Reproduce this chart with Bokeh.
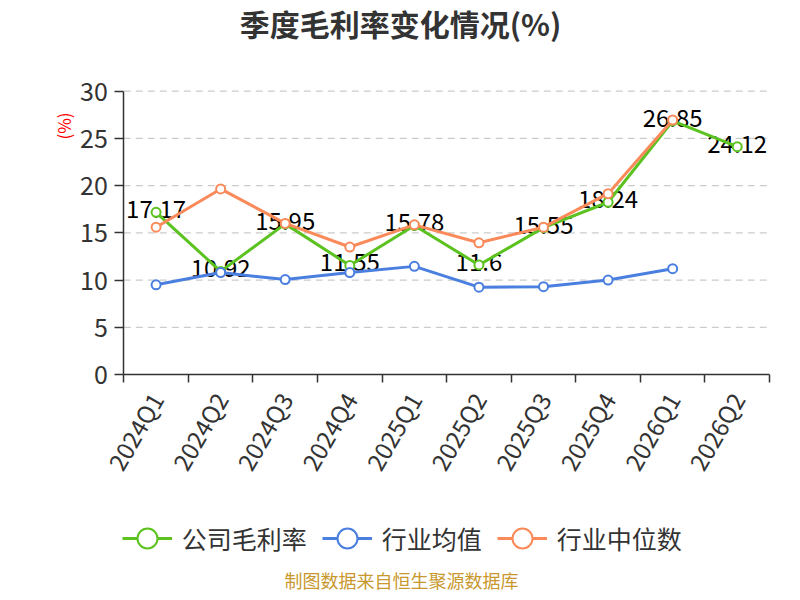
import math
from bokeh.plotting import figure
from bokeh.models import (Range1d, FixedTicker, Legend, LegendItem, Label,
                          ColumnDataSource, LinearAxis)
from bokeh.core.properties import value
from bokeh.embed import file_html
from bokeh.resources import INLINE

# ---- data ----
quarters = ["2024Q1", "2024Q2", "2024Q3", "2024Q4", "2025Q1",
            "2025Q2", "2025Q3", "2025Q4", "2026Q1", "2026Q2"]
company = [17.17, 10.92, 15.95, 11.55, 15.78, 11.6, 15.55, 18.24, 26.85, 24.12]
industry_avg = [9.5, 10.8, 10.05, 10.8, 11.45, 9.25, 9.3, 10.0, 11.2]
industry_median = [15.6, 19.65, 16.0, 13.5, 15.85, 13.95, 15.6, 19.15, 26.95]
y_ticks = [0, 5, 10, 15, 20, 25, 30]
series_names = ["公司毛利率", "行业均值", "行业中位数"]
title_text = "季度毛利率变化情况(%)"
unit_text = "(%)"
credit_text = "制图数据来自恒生聚源数据库"

GREEN = "#5bc21f"
BLUE = "#4a7fe0"
ORANGE = "#fa8a5a"
FONT = "Noto Sans CJK SC"
TXT = "#333333"

# ---- layout geometry (pixels inside the figure) ----
W, H = 792, 592
AX_LEFT, AX_RIGHT = 123.3, 769.0      # x extent of the category axis
AX_TOP, AX_ZERO = 90.7, 374.0         # pixel rows of y=30 and y=0
n = len(quarters)
x_lo, x_hi = -0.5, n - 0.5
y_lo, y_hi = y_ticks[0], y_ticks[-1]
ppx = (AX_RIGHT - AX_LEFT) / (x_hi - x_lo)
ppy = (AX_ZERO - AX_TOP) / (y_hi - y_lo)

p = figure(width=W, height=H, output_backend="svg", toolbar_location=None,
           x_range=Range1d(x_lo - AX_LEFT / ppx, x_hi + (W - AX_RIGHT) / ppx),
           y_range=Range1d(y_lo - (H - AX_ZERO) / ppy, y_hi + AX_TOP / ppy),
           x_axis_type=None, y_axis_type=None,
           min_border=0, min_border_left=0, min_border_right=0,
           min_border_top=0, min_border_bottom=0)
p.outline_line_color = None
p.background_fill_color = "white"
p.border_fill_color = "white"
p.xgrid.visible = False
p.ygrid.visible = False

xs = list(range(n))
bounds = [i - 0.5 for i in range(n + 1)]

# x axis (at y = 0): ticks at category boundaries, labels at centres
xax = LinearAxis(fixed_location=y_lo, bounds=(x_lo, x_hi))
xax.ticker = FixedTicker(ticks=xs, minor_ticks=bounds)
xax.major_label_overrides = {i: q for i, q in enumerate(quarters)}
xax.major_tick_out = 0
xax.major_tick_in = 0
xax.minor_tick_out = 8
xax.minor_tick_in = 0
xax.minor_tick_line_color = TXT
xax.minor_tick_line_width = 1.5
xax.axis_line_color = TXT
xax.axis_line_width = 1.5
xax.major_label_orientation = math.pi / 3
xax.major_label_text_font_size = "24px"
xax.major_label_text_font = FONT
xax.major_label_text_color = TXT
xax.major_label_standoff = 12
p.add_layout(xax, "below")

# y axis (at the left category boundary)
yax = LinearAxis(fixed_location=x_lo, bounds=(y_lo, y_hi))
yax.ticker = FixedTicker(ticks=y_ticks)
yax.major_tick_out = 9
yax.major_tick_in = 0
yax.minor_tick_out = 0
yax.minor_tick_in = 0
yax.major_tick_line_color = TXT
yax.major_tick_line_width = 1.5
yax.axis_line_color = TXT
yax.axis_line_width = 1.5
yax.major_label_text_font_size = "25px"
yax.major_label_text_font = FONT
yax.major_label_text_color = TXT
yax.major_label_standoff = 7
p.add_layout(yax, "left")

# dashed horizontal grid lines spanning the category axis
gy = [t for t in y_ticks if t > y_lo]
p.segment(x0=[x_lo] * len(gy), x1=[x_hi] * len(gy), y0=gy, y1=gy,
          line_color="#cccccc", line_dash="7 5", line_width=1.2)

# data labels (drawn first so markers sit on top)
lab_src = ColumnDataSource(dict(x=xs, y=company, t=[str(v) for v in company]))
p.text(x="x", y="y", text="t", source=lab_src, text_align="center",
       text_baseline="middle", y_offset=-3, text_font_size="24px",
       text_font=value(FONT), text_color="#000000")

def series(xv, yv, color):
    ln = p.line(xv, yv, line_color=color, line_width=3)
    sc = p.scatter(xv, yv, marker="circle", size=9, line_color=color,
                   line_width=2, fill_color="white")
    return [ln, sc]

r_company = series(xs, company, GREEN)
r_avg = series(xs[:len(industry_avg)], industry_avg, BLUE)
r_med = series(xs[:len(industry_median)], industry_median, ORANGE)

legend = Legend(items=[LegendItem(label=series_names[0], renderers=r_company),
                       LegendItem(label=series_names[1], renderers=r_avg),
                       LegendItem(label=series_names[2], renderers=r_med)],
                orientation="horizontal", location=(121.7, H - 568),
                glyph_width=50, glyph_height=60, label_standoff=10, spacing=15,
                padding=0, margin=0, border_line_alpha=0,
                background_fill_alpha=0, label_text_font_size="25px",
                label_text_font=FONT, label_text_color=TXT,
                label_text_baseline="middle")
p.add_layout(legend, "center")

p.add_layout(Label(x=400, y=H - 22.5, x_units="screen", y_units="screen",
                   text=title_text, text_align="center", text_baseline="middle",
                   text_font_size="30px", text_font_style="bold",
                   text_font=FONT, text_color=TXT))
p.add_layout(Label(x=62.5, y=H - 125.5, x_units="screen", y_units="screen",
                   text=unit_text, angle=math.pi / 2, text_align="center",
                   text_baseline="middle", text_font_size="17px",
                   text_font=FONT, text_color="#ff0000"))
p.add_layout(Label(x=401, y=H - 579.5, x_units="screen", y_units="screen",
                   text=credit_text, text_align="center", text_baseline="middle",
                   text_font_size="18px", text_font=FONT, text_color="#c8982e"))

open("out.html", "w").write(file_html(p, INLINE))
